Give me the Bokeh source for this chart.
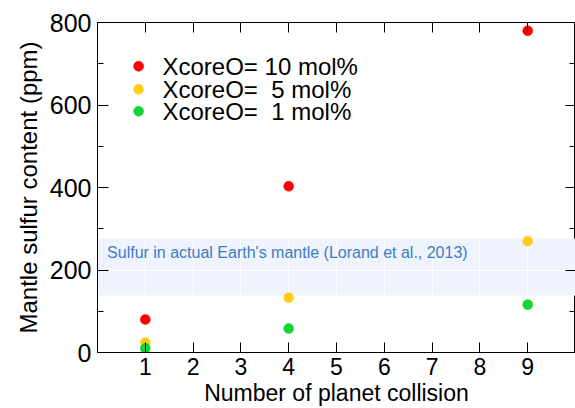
from bokeh.plotting import figure
from bokeh.models import LinearAxis, Range1d, FixedTicker
from bokeh.embed import file_html
from bokeh.resources import INLINE

collisions = [1, 4, 9]
s_10 = [80, 403, 780]
s_5 = [24, 133, 270]
s_1 = [10, 58, 116]
labels = ["XcoreO= 10 mol%", "XcoreO=\u00a0\u00a05 mol%", "XcoreO=\u00a0\u00a01 mol%"]
colors = ["#ff0000", "#ffcc1a", "#11d632"]
band_low = [138]
band_high = [276]
band_text = ["Sulfur in actual Earth's mantle (Lorand et al., 2013)"]
x_ticks = list(range(1, 10))
y_major = [0, 200, 400, 600, 800]
y_minor = [100, 300, 500, 700]

# placement of annotation texts / key (in data units)
band_text_x = [0.2]
band_text_y = [242]
key_marker_x = 0.86
key_text_x = 1.36
key_y = [694, 638, 585]

p = figure(width=575, height=408, output_backend="svg", toolbar_location=None,
           x_range=Range1d(0, 10), y_range=Range1d(0, 800),
           min_border_left=97, min_border_right=0, min_border_top=22, min_border_bottom=55)
p.outline_line_color = "black"
p.outline_line_width = 1
p.grid.grid_line_color = "#ffffff"

p.hstrip(y0=band_low, y1=band_high, fill_color="#eef3fd", line_color=None, level="underlay")
p.text(x=band_text_x, y=band_text_y, text=band_text, text_font_size="16px",
       text_color="#3d7dc2", text_baseline="middle", text_align="left")

def style_axis(ax, minor=False, tick_len=10, labels_on=True, ticks=None):
    ax.axis_line_color = "black"
    ax.axis_line_width = 1
    ax.major_tick_line_color = "black"
    ax.major_tick_line_width = 1
    ax.major_tick_in = tick_len
    ax.major_tick_out = 0
    ax.minor_tick_in = 6
    ax.minor_tick_out = 0
    ax.minor_tick_line_color = "black" if minor else None
    ax.major_label_text_color = "black"
    ax.axis_label_text_color = "black"
    if not labels_on:
        ax.major_label_overrides = {t: "" for t in ticks}
        ax.major_label_standoff = 0

xb = p.xaxis[0]
xb.ticker = FixedTicker(ticks=x_ticks)
xb.axis_label = "Number of planet collision"
style_axis(xb)
xb.major_label_text_font_size = "23px"
xb.major_label_standoff = 5
xb.axis_label_text_font_size = "23px"
xb.axis_label_text_font_style = "normal"
xb.axis_label_standoff = 2

yl = p.yaxis[0]
yl.ticker = FixedTicker(ticks=y_major, minor_ticks=y_minor)
yl.axis_label = "Mantle sulfur content (ppm)"
style_axis(yl, minor=True, tick_len=11)
yl.major_label_text_font_size = "25px"
yl.major_label_standoff = 6
yl.axis_label_text_font_size = "24px"
yl.axis_label_text_font_style = "normal"
yl.axis_label_standoff = 5

xt = LinearAxis(ticker=FixedTicker(ticks=x_ticks))
style_axis(xt, labels_on=False, ticks=x_ticks)
p.add_layout(xt, "above")

yr = LinearAxis(ticker=FixedTicker(ticks=y_major, minor_ticks=y_minor))
style_axis(yr, minor=True, labels_on=False, ticks=y_major)
p.add_layout(yr, "right")

for vals, col, lab, ky in zip([s_10, s_5, s_1], colors, labels, key_y):
    p.scatter(collisions, vals, size=10, fill_color=col, line_color=col, line_width=0.5)
    p.scatter([key_marker_x], [ky], size=10, fill_color=col, line_color=col, line_width=0.5)
    p.text([key_text_x], [ky], text=[lab], text_font_size="24px", text_color="black",
           text_baseline="middle", text_align="left")

open("out.html", "w").write(file_html(p, INLINE))
